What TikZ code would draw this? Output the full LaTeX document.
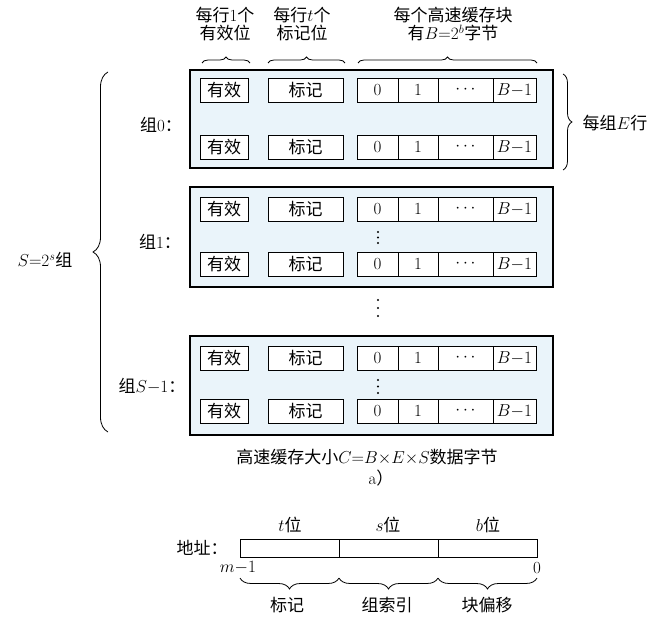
\documentclass[tikz,border=0pt]{standalone}
\usepackage{fontspec}
\newfontfamily\cjk{Noto Sans CJK SC}
\usetikzlibrary{calc,decorations.pathreplacing}
\definecolor{setfill}{RGB}{234,244,250}
\tikzset{
  cell/.style={draw, line width=0.9pt, fill=white, minimum height=24pt, inner sep=0pt, outer sep=0pt},
  setbox/.style={draw, line width=1.1pt, fill=setfill, outer sep=0pt, anchor=north west, minimum width=363pt},
  addrcell/.style={draw, line width=0.9pt, minimum height=18pt, minimum width=99pt, inner sep=0pt, outer sep=0pt},
  lbl/.style={inner sep=0pt, align=center},
  vdot/.style={circle, fill, inner sep=0pt, minimum size=2.4pt},
  brc/.style={decorate, decoration={brace, amplitude=#1}, line width=0.8pt},
  brc/.default=6pt,
}
\newcommand\cacheline[2]{%
  \node[cell, minimum width=48pt] (#1v) at (224,#2) {\cjk 有效};
  \node[cell, minimum width=75pt] (#1t) at (305.5,#2) {\cjk 标记};
  \node[cell, minimum width=41pt, anchor=west] (#1d0) at (357,#2) {0};
  \node[cell, minimum width=40pt, anchor=west] (#1d1) at (#1d0.east) {1};
  \node[cell, minimum width=55pt, anchor=west] (#1d2) at (#1d1.east) {$\cdots$};
  \node[cell, minimum width=43pt, anchor=west] (#1d3) at (#1d2.east) {$B{-}1$};
}

\begin{document}
\begin{tikzpicture}[x=1pt, y=-1pt, font=\fontsize{17}{18}\selectfont]
\useasboundingbox (0,0) rectangle (657,618);
\node[setbox, minimum height=98pt] (set0) at (190,70) {};
\node[setbox, minimum height=100pt] (set1) at (190,187) {};
\node[setbox, minimum height=99pt] (setS) at (190,336) {};
\cacheline{s0a}{90}
\cacheline{s0b}{147}
\cacheline{s1a}{209}
\cacheline{s1b}{264}
\cacheline{sSa}{358}
\cacheline{sSb}{411}
\foreach \y [count=\i] in {232,237.5,243} \node[vdot] (dot1\i) at (378,\y) {};
\foreach \y [count=\i] in {300,308,316} \node[vdot] (dotm\i) at (378,\y) {};
\foreach \y [count=\i] in {380,386.5,393} \node[vdot] (dotS\i) at (378,\y) {};
\node[lbl] (lab0) at (161,125) {{\cjk 组}0{\cjk ：}};
\node[lbl] (lab1) at (160,242) {{\cjk 组}1{\cjk ：}};
\node[lbl] (labS) at (152,386) {{\cjk 组}$S{-}1${\cjk ：}};
\node[lbl] (hvalid) at (225,24) {{\cjk 每行}1{\cjk 个}\\{\cjk 有效位}};
\node[lbl] (htag) at (302,24) {{\cjk 每行}$t${\cjk 个}\\{\cjk 标记位}};
\node[lbl] (hblock) at (453,24) {{\cjk 每个高速缓存块}\\{\cjk 有}$B{=}2^b${\cjk 字节}};
\draw[brc] ($(s0av.north west)+(2,-15)$) -- ($(s0av.north east)+(2,-15)$);
\draw[brc] ($(s0at.north west)+(0,-15)$) -- ($(s0at.north east)+(2,-15)$);
\draw[brc] ($(s0ad0.north west)+(1,-15)$) -- ($(s0ad3.north east)+(1,-15)$);
\draw[brc=9pt] ($(set0.north east)+(10,4)$) -- ($(set0.south east)+(10,2)$);
\node[lbl] (rowsE) at (615,123) {{\cjk 每组}$E${\cjk 行}};
\draw[brc=15pt] ($(setS.south west)+(-82,-3)$) -- ($(set0.north west)+(-82,2)$);
\node[lbl] (setsS) at (45,260) {$S{=}2^s${\cjk 组}};
\node[lbl] (cap) at (367,457) {{\cjk 高速缓存大小}$C{=}B{\times}E{\times}S${\cjk 数据字节}};
\node[lbl] (capa) at (381,478) {a{\cjk ）}};
\node[addrcell] (at) at (289.5,548) {};
\node[addrcell, anchor=west] (as) at (at.east) {};
\node[addrcell, anchor=west] (ab) at (as.east) {};
\node[lbl] (addr) at (202,548) {\cjk 地址：};
\node[lbl] (tbits) at (290,525) {$t${\cjk 位}};
\node[lbl] (sbits) at (388,525) {$s${\cjk 位}};
\node[lbl] (bbits) at (488,525) {$b${\cjk 位}};
\node[lbl] (msb) at (238,568) {$m{-}1$};
\node[lbl] (lsb) at (537,568) {0};
\draw[brc=11pt] ($(at.south east)+(0,21)$) -- ($(at.south west)+(0,21)$);
\draw[brc=11pt] ($(as.south east)+(0,21)$) -- ($(as.south west)+(0,21)$);
\draw[brc=11pt] ($(ab.south east)+(0,21)$) -- ($(ab.south west)+(0,21)$);
\node[lbl] (ftag) at (287,605) {\cjk 标记};
\node[lbl] (fset) at (387,605) {\cjk 组索引};
\node[lbl] (foff) at (487,605) {\cjk 块偏移};
\end{tikzpicture}
\end{document}
